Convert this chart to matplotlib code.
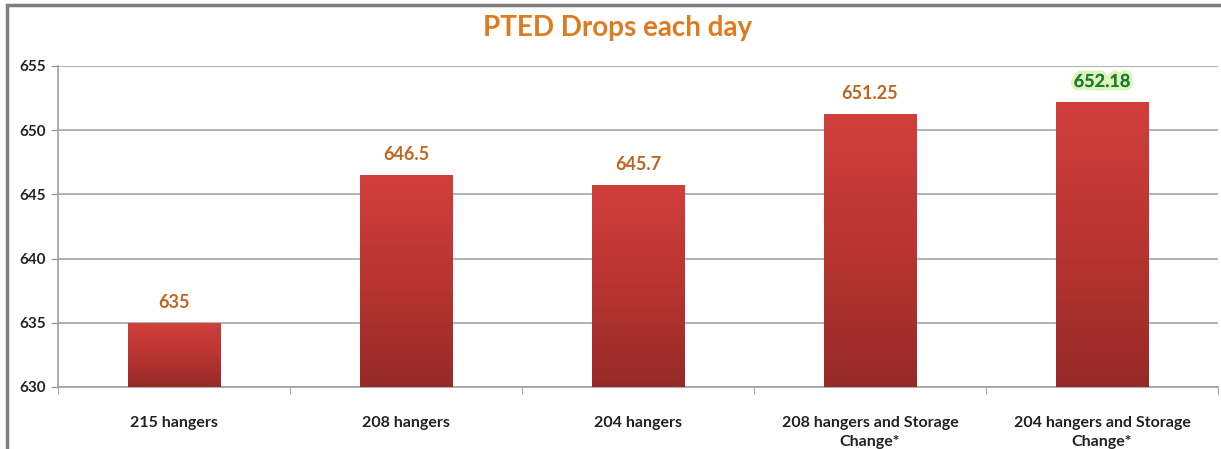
import matplotlib
matplotlib.use("Agg")
import matplotlib.pyplot as plt
import numpy as np
from matplotlib import patheffects as pe
from matplotlib.patches import Rectangle
from matplotlib.colors import LinearSegmentedColormap

categories = ["215 hangers", "208 hangers", "204 hangers",
              "208 hangers and Storage\nChange*", "204 hangers and Storage\nChange*"]
values = [635, 646.5, 645.7, 651.25, 652.18]
value_labels = ["635", "646.5", "645.7", "651.25", "652.18"]
yticks = [630, 635, 640, 645, 650, 655]

W, H = 1221, 449
fig = plt.figure(figsize=(W/100, H/100), dpi=100)
fig.patch.set_facecolor("white")
ax = fig.add_axes([58/W, 1-387/H, (1218-58)/W, (387-66)/H])

ymin, ymax = 630, 655
x = np.arange(len(categories))
bars = ax.bar(x, [v - ymin for v in values], bottom=ymin, width=0.4, color="none",
              edgecolor="none", zorder=3)

cmap = LinearSegmentedColormap.from_list("bar", ["#962a28", "#b83432", "#d13f3b"])
grad = np.linspace(0, 1, 256).reshape(-1, 1)
for b in bars:
    x0, y0 = b.get_x(), b.get_y()
    w, h = b.get_width(), b.get_height()
    im = ax.imshow(grad, extent=[x0, x0 + w, y0, y0 + h], origin="lower", cmap=cmap,
                   aspect="auto", zorder=3, interpolation="bicubic")
    im.set_clip_path(b)

ax.set_xlim(-0.5, len(categories) - 0.5)
ax.set_ylim(ymin, ymax)
ax.set_yticks(yticks)
ax.set_yticklabels([str(t) for t in yticks], fontsize=11, fontweight="bold",
                   color="#222222", family="Lato")
ax.set_xticks(x)
ax.set_xticklabels(categories, fontsize=11.5, fontweight="bold", color="#222222",
                   family="Lato", linespacing=1.45)
ax.tick_params(axis="x", length=0, pad=21)
ax.set_xticks(np.arange(-0.5, len(categories)), minor=True)
ax.tick_params(axis="x", which="minor", length=5, color="#909090", direction="out")
ax.tick_params(axis="y", length=5, color="#909090", direction="out", pad=4)

ax.grid(axis="y", color="#a6a6a6", linewidth=1.2, zorder=0)
ax.set_axisbelow(True)
for s in ["top", "right"]:
    ax.spines[s].set_visible(False)
for s in ["left", "bottom"]:
    ax.spines[s].set_color("#a0a0a0")
    ax.spines[s].set_linewidth(1.2)

for i, (v, lab) in enumerate(zip(values, value_labels)):
    if i == len(values) - 1:
        ax.text(i, v + 0.95, lab, ha="center", va="bottom", fontsize=13,
                fontweight="bold", color="#1f7a35", family="Lato",
                path_effects=[pe.withStroke(linewidth=5, foreground="#dcf5b8"), pe.Normal()],
                zorder=5)
    else:
        ax.text(i, v + 0.95, lab, ha="center", va="bottom", fontsize=13,
                fontweight="bold", color="#c0651f", family="Lato", zorder=5)

fig.text(618/W, 1 - 28/H, "PTED Drops each day", ha="center", va="center",
         fontsize=20, fontweight="bold", color="#e07a1f", family="Lato")

# outer border (top and left visible)
fig.patches.append(Rectangle((7/W, -0.1), 1.2, 1 - 5/H + 0.1, transform=fig.transFigure,
                             fill=False, edgecolor="#7f7f7f", linewidth=2.5))

fig.savefig("out.png", dpi=100, facecolor="white")
